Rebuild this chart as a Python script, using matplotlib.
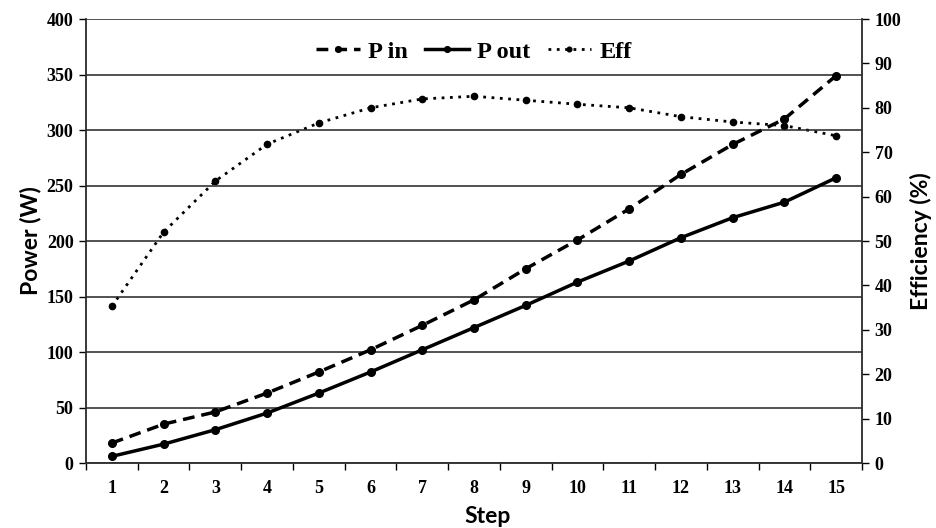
import matplotlib
matplotlib.use("Agg")
import matplotlib.pyplot as plt
from matplotlib.ticker import MultipleLocator, FixedLocator, NullFormatter

steps = list(range(1, 16))
p_in = [18, 35, 46, 63, 82, 102, 124, 147, 175, 201, 229, 260, 287, 310, 349]
p_out = [6, 17, 30, 45, 63, 82, 102, 122, 142, 163, 182, 203, 221, 235, 257]
eff = [35.3, 52.0, 63.5, 71.8, 76.6, 80.0, 82.0, 82.6, 81.7, 80.8, 80.0, 78.0, 76.8, 76.0, 73.7]

serif = "Liberation Serif"
sans = "Lato"

fig = plt.figure(figsize=(9.37, 5.28), dpi=100)
ax = fig.add_axes([0.0918, 0.1231, 0.8282, 0.8409])
ax2 = ax.twinx()

ax.set_zorder(ax2.get_zorder() + 1)
ax.patch.set_visible(False)

l_in, = ax.plot(steps, p_in, color="black", lw=2.5, ls=(0, (3.4, 2.0)), marker="o", ms=5.5, label="P in")
l_out, = ax.plot(steps, p_out, color="black", lw=2.5, ls="-", marker="o", ms=5.5, label="P out")
l_eff, = ax2.plot(steps, eff, color="black", lw=2, ls=(0, (1, 2)), marker="o", ms=4.5, label="Eff")

ax.set_xlim(0.5, 15.5)
ax.set_ylim(0, 400)
ax2.set_ylim(0, 100)
ax.yaxis.set_major_locator(MultipleLocator(50))
ax2.yaxis.set_major_locator(MultipleLocator(10))

ax.set_xticks(steps)
ax.tick_params(axis="x", which="major", length=0, pad=12)
ax.xaxis.set_minor_locator(FixedLocator([s + 0.5 for s in range(0, 16)]))
ax.xaxis.set_minor_formatter(NullFormatter())
ax.tick_params(axis="x", which="minor", length=5, width=1, direction="out")
ax.tick_params(axis="y", length=5, width=1, direction="out", pad=4)
ax2.tick_params(axis="y", length=5, width=1, direction="out", pad=4)

ax.grid(axis="y", color="#222222", lw=1.1)
ax.set_axisbelow(True)

for a in (ax, ax2):
    for sp in a.spines.values():
        sp.set_color("#333333")
        sp.set_linewidth(1.1)
ax.spines["top"].set_visible(False)
ax2.spines["top"].set_visible(False)

for lbl in ax.get_xticklabels() + ax.get_yticklabels() + ax2.get_yticklabels():
    lbl.set_fontfamily(serif)
    lbl.set_fontweight("bold")
    lbl.set_fontsize(13)

ax.set_xlabel("Step", fontfamily=sans, fontweight="bold", fontsize=16.5)
ax.xaxis.set_label_coords(0.517, -0.097)
ax.set_ylabel("Power (W)", fontfamily=sans, fontweight="bold", fontsize=16.5, labelpad=4)
ax2.set_ylabel("Efficiency (%)", fontfamily=sans, fontweight="bold", fontsize=16.5, labelpad=6)

leg = ax.legend(handles=[l_in, l_out, l_eff], loc="upper center", bbox_to_anchor=(0.5, 1.0),
                ncol=3, frameon=False, handlelength=1.8, handletextpad=0.35, columnspacing=0.7,
                markerscale=0.75,
                prop={"family": serif, "weight": "bold", "size": 17.5})

fig.savefig("out.png", dpi=100)
